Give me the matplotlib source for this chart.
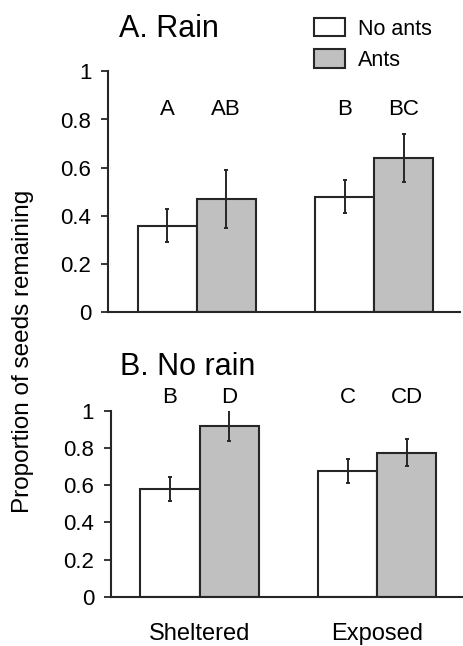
import matplotlib
matplotlib.use("Agg")
import matplotlib.pyplot as plt
import numpy as np
from matplotlib.patches import Patch
from matplotlib.ticker import FuncFormatter

plt.rcParams["font.family"] = ["Liberation Sans", "DejaVu Sans"]

# ---------------------------------------------------------------------------
# data
# ---------------------------------------------------------------------------
sites = ["Sheltered", "Exposed"]
series = ["No ants", "Ants"]

rain_no_ants = [0.36, 0.48]
rain_no_ants_se = [0.07, 0.07]
rain_ants = [0.47, 0.64]
rain_ants_se = [0.12, 0.10]
rain_letters_no_ants = ["A", "B"]
rain_letters_ants = ["AB", "BC"]

norain_no_ants = [0.58, 0.675]
norain_no_ants_se = [0.063, 0.065]
norain_ants = [0.92, 0.775]
norain_ants_se = [0.085, 0.074]
norain_letters_no_ants = ["B", "C"]
norain_letters_ants = ["D", "CD"]

yticks = [0, 0.2, 0.4, 0.6, 0.8, 1]

EDGE = "#262626"
GREY = "#c0c0c0"
W, H = 463, 646


def draw_panel(ax, no_ants, no_ants_se, ants, ants_se, let_no, let_ants,
               letter_y, show_xlabels):
    x = np.arange(len(sites)) * 3.0
    err_kw = dict(ecolor=EDGE, elinewidth=1.4, capsize=1.5, capthick=1.4)
    ax.bar(x - 0.5, no_ants, width=1.0, color="white", edgecolor=EDGE,
           linewidth=1.5, yerr=no_ants_se, error_kw=err_kw, zorder=2)
    ax.bar(x + 0.5, ants, width=1.0, color=GREY, edgecolor=EDGE,
           linewidth=1.5, yerr=ants_se, error_kw=err_kw, zorder=2)
    for xi, a, b in zip(x, let_no, let_ants):
        ax.text(xi - 0.5, letter_y, a, ha="center", va="center",
                fontsize=16, clip_on=False)
        ax.text(xi + 0.5, letter_y, b, ha="center", va="center",
                fontsize=16, clip_on=False)

    ax.set_xlim(-1.5, 4.45)
    ax.set_ylim(0, 1)
    ax.set_yticks(yticks)
    ax.yaxis.set_major_formatter(FuncFormatter(lambda v, p: f"{v:g}"))
    ax.spines[["top", "right"]].set_visible(False)
    for s in ("left", "bottom"):
        ax.spines[s].set_color(EDGE)
        ax.spines[s].set_linewidth(1.5)
    ax.tick_params(axis="y", direction="out", length=5, width=1.3,
                   color=EDGE, labelsize=16, pad=7)
    ax.set_xticks(x)
    if show_xlabels:
        ax.set_xticklabels(sites, fontsize=17)
        ax.tick_params(axis="x", length=0, pad=19)
    else:
        ax.set_xticklabels([])
        ax.tick_params(axis="x", length=0)


fig = plt.figure(figsize=(W / 100, H / 100), dpi=100)

ax_top = fig.add_axes([108 / W, 1 - 312.3 / H, 352 / W, 241 / H])
ax_bot = fig.add_axes([110.7 / W, 1 - 596.7 / H, 352.3 / W, 186 / H])

draw_panel(ax_top, rain_no_ants, rain_no_ants_se, rain_ants, rain_ants_se,
           rain_letters_no_ants, rain_letters_ants, 0.84, False)
draw_panel(ax_bot, norain_no_ants, norain_no_ants_se, norain_ants,
           norain_ants_se, norain_letters_no_ants, norain_letters_ants,
           1.07, True)

fig.text(119 / W, 1 - 37 / H, "A. Rain", fontsize=22, va="baseline")
fig.text(120 / W, 1 - 375 / H, "B. No rain", fontsize=22, va="baseline")
fig.text(23 / W, 1 - 351 / H, "Proportion of seeds remaining", fontsize=17.5,
         rotation=90, ha="center", va="center")

handles = [Patch(facecolor="white", edgecolor=EDGE, linewidth=1.5),
           Patch(facecolor=GREY, edgecolor=EDGE, linewidth=1.5)]
fig.legend(handles, series, loc="upper left",
           bbox_to_anchor=(314 / W, 1 - 18 / H), frameon=False,
           fontsize=15.5, handlelength=1.45, handleheight=0.93,
           handletextpad=0.6, labelspacing=0.45, borderpad=0,
           borderaxespad=0)

fig.savefig("out.png", dpi=100)
